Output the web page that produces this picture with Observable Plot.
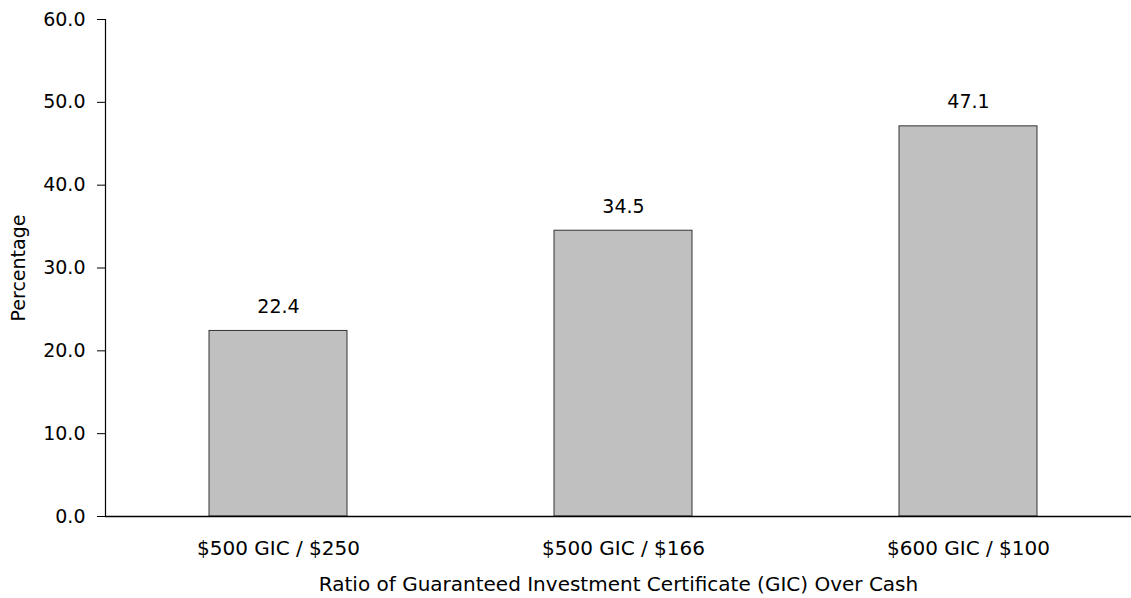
<!DOCTYPE html>
<html>
<head>
<meta charset="utf-8">
<script src="https://cdn.jsdelivr.net/npm/d3@7"></script>
<script src="https://cdn.jsdelivr.net/npm/@observablehq/plot@0.6"></script>
<style>
  html, body { margin: 0; padding: 0; background: #fff; overflow: hidden; }
</style>
</head>
<body>
<div id="chart"></div>
<script>
const categories = ["$500 GIC / $250", "$500 GIC / $166", "$600 GIC / $100"];
const values = [22.4, 34.5, 47.1];
const yTicks = [0, 10, 20, 30, 40, 50, 60];
const xTitle = "Ratio of Guaranteed Investment Certificate (GIC) Over Cash";
const yTitle = "Percentage";

const data = categories.map((c, i) => ({category: c, value: values[i]}));

const chart = Plot.plot({
  width: 1131,
  height: 598,
  marginLeft: 105,
  marginRight: 0,
  marginTop: 19,
  marginBottom: 82,
  style: {fontFamily: "'DejaVu Sans', Verdana, sans-serif", fontSize: "19px", color: "#000", background: "#fff"},
  x: {domain: categories, range: [105, 1140], paddingInner: 0.6, paddingOuter: 0.3, align: 0.5},
  y: {domain: [0, 60]},
  marks: [
    Plot.barY(data, {x: "category", y: "value", fill: "#c0c0c0", stroke: "#333", strokeWidth: 1}),
    Plot.text(data, {x: "category", y: "value", text: d => d.value.toFixed(1), lineAnchor: "middle", dy: -24, fill: "#000"}),
    Plot.axisY({ticks: yTicks, tickFormat: d => d.toFixed(1), tickSize: 8, tickPadding: 12, label: null, stroke: "#000"}),
    Plot.frame({anchor: "left", stroke: "#000", strokeWidth: 1.2}),
    Plot.axisX({tickSize: 0, tickPadding: 24, label: null, fontSize: 20}),
    Plot.ruleY([0], {stroke: "#000", strokeWidth: 1.5}),
    Plot.text([yTitle], {frameAnchor: "left", textAnchor: "middle", dx: -87, rotate: -90, text: d => d, fill: "#000"}),
    Plot.text([xTitle], {frameAnchor: "bottom", dy: 74, text: d => d, fill: "#000", fontSize: 20})
  ]
});
document.getElementById("chart").appendChild(chart);
</script>
</body>
</html>
